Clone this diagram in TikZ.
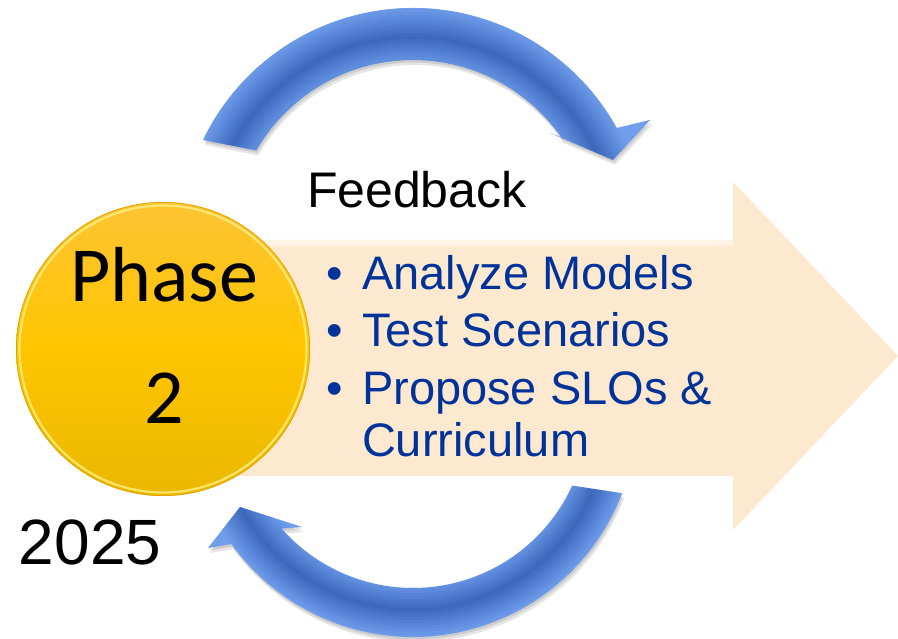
\documentclass[tikz,border=0pt]{standalone}
\usepackage{fontspec}
\setmainfont{Liberation Sans}
\newfontfamily\calfont{Carlito}
\definecolor{peach}{RGB}{253,233,208}
\definecolor{peachlight}{RGB}{254,243,228}
\definecolor{txtblue}{RGB}{0,51,153}
\definecolor{bdark}{RGB}{60,104,188}
\definecolor{blight}{RGB}{112,158,236}
\definecolor{goldtop}{RGB}{253,196,52}
\definecolor{goldmid}{RGB}{255,197,0}
\definecolor{goldbot}{RGB}{234,184,0}
\definecolor{goldrim}{RGB}{255,240,130}
\definecolor{goldedge}{RGB}{225,165,0}
\newcommand\toparrow[1]{\path[#1] (154.3:233) arc[start angle=154.3, end angle=29, radius=233] -- (237,121) -- (200,81) -- (137,108) -- (35:181) arc[start angle=35, end angle=150, radius=181] -- cycle;}
\newcommand\botarrow[1]{\path[#1] (-21:224) arc[start angle=-21, end angle=-144.2, radius=224] -- (-205,-135) -- (-173,-94) -- (-111,-114) -- (-138.7:175) arc[start angle=-138.7, end angle=-24.5, radius=175] -- cycle;}
\tikzset{
  txt/.style={inner sep=0pt, outer sep=0pt},
  itm/.style={txt, anchor=base west, text=txtblue, font=\fontsize{47}{56}\selectfont},
  bul/.style={txt, anchor=base, text=txtblue, font=\fontsize{47}{56}\selectfont},
}
\begin{document}
\begin{tikzpicture}[x=1pt,y=1pt]
\useasboundingbox (0,0) rectangle (898,638);
\fill[white] (0,0) rectangle (898,638);
% big peach arrow
\fill[peach] (230,398) -- (733,398) -- (733,456) -- (898,282) -- (733,108) -- (733,162) -- (230,162) -- cycle;
\fill[peachlight] (230,398) rectangle (733,392);
% top blue arrow
\begin{scope}[shift={(413,397)}]
  \begin{scope}[shift={(2,-5)}]\toparrow{fill=black,opacity=0.10}\end{scope}
  \begin{scope}[shift={(1,-2.5)}]\toparrow{fill=black,opacity=0.10}\end{scope}
  \begin{scope}
    \toparrow{clip}
    \foreach \r in {150,153,...,285}{
      \pgfmathtruncatemacro\p{max(0,min(100,100-170*abs((\r-181)/52-0.45)))}
      \draw[bdark!\p!blight, line width=3.6pt] (0,0) circle[radius=\r];
    }
  \end{scope}
\end{scope}
% bottom blue arrow
\begin{scope}[shift={(413,225)}]
  \begin{scope}[shift={(2,-5)}]\botarrow{fill=black,opacity=0.10}\end{scope}
  \begin{scope}[shift={(1,-2.5)}]\botarrow{fill=black,opacity=0.10}\end{scope}
  \begin{scope}
    \botarrow{clip}
    \foreach \r in {140,143,...,265}{
      \pgfmathtruncatemacro\p{max(0,min(100,100-170*abs((\r-175)/49-0.45)))}
      \draw[bdark!\p!blight, line width=3.6pt] (0,0) circle[radius=\r];
    }
  \end{scope}
\end{scope}
% circle
\node[circle, inner sep=0pt, minimum size=294pt, top color=goldtop, bottom color=goldbot, middle color=goldmid] (disc) at (163,289) {};
\draw[goldrim, line width=2.2pt, opacity=0.8] (disc.center) circle[radius=143.5];
\draw[goldedge, line width=0.8pt] (disc.center) circle[radius=146.6];
% texts
\node[txt, anchor=base, font=\calfont\fontsize{78}{90}\selectfont] (phase) at (164,336) {Phase};
\node[txt, anchor=base, font=\calfont\fontsize{78}{90}\selectfont] (two) at (164,214) {2};
\node[txt, anchor=base west, font=\fontsize{50}{60}\selectfont] (fb) at (307,430) {Feedback};
\node[bul] (b1) at (335,348) {•};
\node[itm] (t1) at (362,348) {Analyze Models};
\node[bul] (b2) at (335,291) {•};
\node[itm] (t2) at (362,291) {Test Scenarios};
\node[bul] (b3) at (335,233) {•};
\node[itm] (t3) at (362,233) {Propose SLOs \&};
\node[itm] (t4) at (362,181) {Curriculum};
\node[txt, anchor=base west, font=\fontsize{64}{72}\selectfont] (yr) at (19,73) {2025};
\end{tikzpicture}
\end{document}
